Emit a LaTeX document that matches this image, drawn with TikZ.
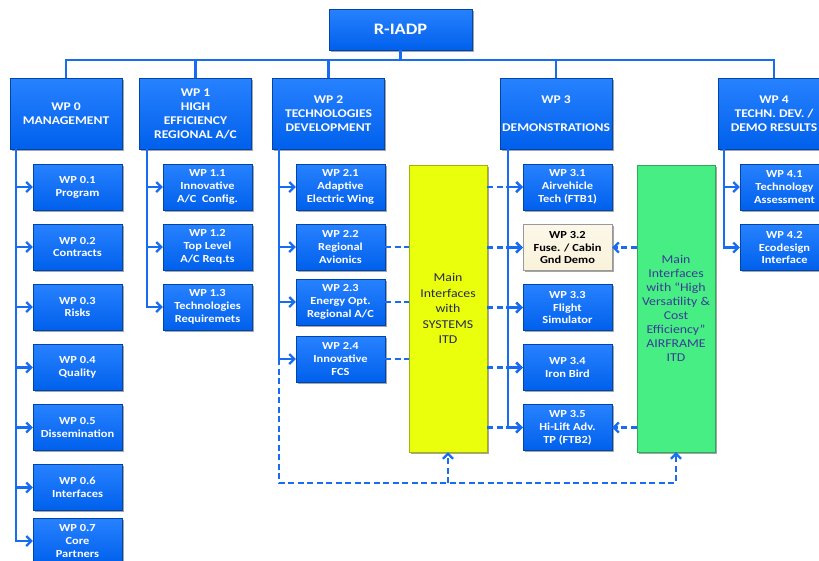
\documentclass[tikz,border=0pt]{standalone}
\usepackage{fontspec}
\setmainfont{Carlito}[FakeStretch=1.15]
\usetikzlibrary{arrows.meta,shadows}
\definecolor{btop}{RGB}{40,130,255}
\definecolor{bbot}{RGB}{0,96,236}
\definecolor{bedge}{RGB}{0,70,170}
\definecolor{bline}{RGB}{24,108,242}
\definecolor{yfill}{RGB}{234,255,12}
\definecolor{gfill}{RGB}{70,238,132}
\definecolor{cfill}{RGB}{250,242,218}
\definecolor{ytext}{RGB}{40,40,80}
\definecolor{gtext}{RGB}{60,60,150}
\begin{document}
\begin{tikzpicture}[x=1pt,y=-1pt,
  base/.style={draw=bedge, line width=0.4pt, inner sep=0pt, align=center,
    drop shadow={shadow xshift=1.5pt,shadow yshift=-1.8pt,opacity=0.5,fill=black!70}},
  bbox/.style={base, top color=btop, bottom color=bbot, text=white,
    font=\bfseries\fontsize{10.8}{12.8}\selectfont, minimum width=89pt, minimum height=46pt},
  hbox/.style={bbox, font=\bfseries\fontsize{11.8}{14}\selectfont, minimum width=112pt, minimum height=71pt},
  cbox/.style={bbox, top color=cfill!60!white, bottom color=cfill, draw=black!40, text=black},
  conn/.style={bline, line width=2.2pt},
  arr/.style={conn, -{Straight Barb[length=5pt,width=10pt]}},
  dsh/.style={conn, dash pattern=on 6pt off 3.5pt},
  darr/.style={dsh, -{Straight Barb[length=5pt,width=10pt]}}
]
\useasboundingbox (0,0) rectangle (819,560);
\clip (0,0) rectangle (819,560);

% top
\node[base, top color=btop, bottom color=bbot, text=white, minimum width=143pt, minimum height=41pt,
  font=\bfseries\fontsize{16}{18}\selectfont] (top) at (400.5,29.5) {R-IADP};

% level 1
\node[hbox] (wp0) at (66,113.5) {WP 0\\MANAGEMENT};
\node[hbox] (wp1) at (195.5,113.5) {WP 1\\HIGH\\EFFICIENCY\\REGIONAL A/C};
\node[hbox] (wp2) at (328.5,113.5) {WP 2\\TECHNOLOGIES\\DEVELOPMENT};
\node[hbox] (wp3) at (556,113.5) {WP 3\\\mbox{}\\DEMONSTRATIONS};
\node[hbox] (wp4) at (774,113.5) {WP 4\\TECHN. DEV. /\\DEMO RESULTS};

% bus
\draw[conn] (top.south) -- ++(0,10);
\draw[conn] (wp0.north) -- ++(0,-18) -| (wp4.north);
\draw[conn] (wp1.north) -- ++(0,-18);
\draw[conn] (wp2.north) -- ++(0,-18);
\draw[conn] (wp3.north) -- ++(0,-18);

% big interface boxes
\node[base, fill=yfill, draw=yfill!70!black, minimum width=78pt, minimum height=287pt,
  text=ytext, font=\fontsize{12}{15.5}\selectfont] (yel) at (448,308.5)
  {Main\\Interfaces\\with\\SYSTEMS\\ITD};
\node[base, fill=gfill, draw=gfill!70!black, minimum width=78pt, minimum height=287pt,
  text=gtext, font=\fontsize{12}{14}\selectfont] (grn) at (676,308.5)
  {Main\\Interfaces\\with “High\\Versatility \&\\Cost\\Efficiency”\\AIRFRAME\\ITD};

% WP0 children
\node[bbox] (wp01) at (77.5,187) {WP 0.1\\Program};
\node[bbox] (wp02) at (77.5,247) {WP 0.2\\Contracts};
\node[bbox] (wp03) at (77.5,307) {WP 0.3\\Risks};
\node[bbox] (wp04) at (77.5,367.5) {WP 0.4\\Quality};
\node[bbox] (wp05) at (77.5,427.5) {WP 0.5\\Dissemination};
\node[bbox] (wp06) at (77.5,487.5) {WP 0.6\\Interfaces};
\node[bbox] (wp07) at (77.5,541) {WP 0.7\\Core\\Partners};

% WP1 children
\node[bbox] (wp11) at (207.5,187) {WP 1.1\\Innovative\\A/C\ \ Config.};
\node[bbox] (wp12) at (207.5,247) {WP 1.2\\Top Level\\A/C Req.ts};
\node[bbox] (wp13) at (207.5,307) {WP 1.3\\Technologies\\Requiremets};

% WP2 children
\node[bbox] (wp21) at (340.5,187) {WP 2.1\\Adaptive\\Electric Wing};
\node[bbox] (wp22) at (340.5,247) {WP 2.2\\Regional\\Avionics};
\node[bbox] (wp23) at (340.5,302) {WP 2.3\\Energy Opt.\\Regional A/C};
\node[bbox] (wp24) at (340.5,359) {WP 2.4\\Innovative\\FCS};

% WP3 children
\node[bbox] (wp31) at (567.5,187) {WP 3.1\\Airvehicle\\Tech (FTB1)};
\node[cbox] (wp32) at (567.5,247.5) {WP 3.2\\Fuse. / Cabin\\Gnd Demo};
\node[bbox] (wp33) at (567.5,307.5) {WP 3.3\\Flight\\Simulator};
\node[bbox] (wp34) at (567.5,367.5) {WP 3.4\\Iron Bird};
\node[bbox] (wp35) at (567.5,427.5) {WP 3.5\\Hi-Lift Adv.\\TP (FTB2)};

% WP4 children
\node[bbox] (wp41) at (784.5,187) {WP 4.1\\Technology\\Assessment};
\node[bbox] (wp42) at (784.5,247.5) {WP 4.2\\Ecodesign\\Interface};

% rails
\coordinate (r0) at ([xshift=6pt]wp0.south west);
\coordinate (r1) at ([xshift=8pt]wp1.south west);
\coordinate (r2) at ([xshift=7pt]wp2.south west);
\coordinate (r3) at ([xshift=8pt]wp3.south west);
\coordinate (r4) at ([xshift=6pt]wp4.south west);

\foreach \n in {wp01,wp02,wp03,wp04,wp05,wp06,wp07} \draw[arr] (r0) |- (\n.west);
\foreach \n in {wp11,wp12,wp13} \draw[arr] (r1) |- (\n.west);
\foreach \n in {wp21,wp22,wp23,wp24} \draw[arr] (r2) |- (\n.west);
\foreach \n in {wp31,wp32,wp33,wp34,wp35} \draw[arr] (r3) |- (\n.west);
\foreach \n in {wp41,wp42} \draw[arr] (r4) |- (\n.west);

% dashed interfaces
\foreach \n in {wp22,wp23,wp24} \draw[dsh] (\n.east) -- (\n.east -| yel.west);
\foreach \n in {wp31,wp32,wp33,wp34,wp35} \draw[darr] (yel.east |- \n.west) -- (\n.west);
\foreach \n in {wp32,wp35} \draw[darr] (grn.west |- \n.east) -- (\n.east);

% bottom dashed loop
\coordinate (bot) at (0,483);
\draw[darr] (r2 |- wp24.west) -- (r2 |- bot) -| (grn.south);
\draw[darr] (yel.south |- bot) -- (yel.south);
\end{tikzpicture}
\end{document}
